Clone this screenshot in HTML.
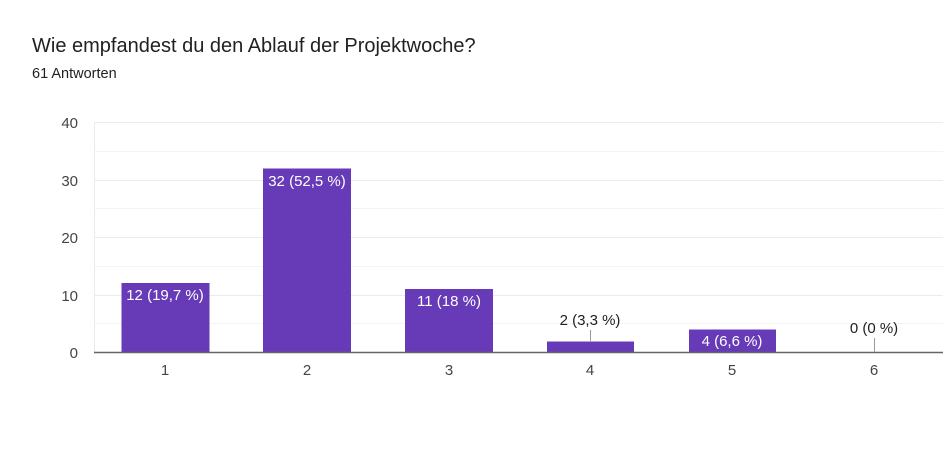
<!DOCTYPE html>
<html><head><meta charset="utf-8"><style>
body{margin:0;background:#fff;}
svg{display:block;font-family:"Liberation Sans",Arial,sans-serif;}
</style></head><body>
<svg width="945" height="449" viewBox="0 0 945 449" xmlns="http://www.w3.org/2000/svg">
<rect width="945" height="449" fill="#fff"/>
<text x="32" y="52" font-size="20" fill="#202124">Wie empfandest du den Ablauf der Projektwoche?</text>
<text x="32" y="78" font-size="14.5" fill="#202124">61 Antworten</text>
<g stroke="#f3f3f3" stroke-width="1">
<line x1="94" y1="122.5" x2="943" y2="122.5" stroke="#ebebeb"/>
<line x1="94" y1="151.5" x2="943" y2="151.5"/>
<line x1="94" y1="180.5" x2="943" y2="180.5" stroke="#ebebeb"/>
<line x1="94" y1="208.5" x2="943" y2="208.5"/>
<line x1="94" y1="237.5" x2="943" y2="237.5" stroke="#ebebeb"/>
<line x1="94" y1="266.5" x2="943" y2="266.5"/>
<line x1="94" y1="295.5" x2="943" y2="295.5" stroke="#ebebeb"/>
<line x1="94" y1="323.5" x2="943" y2="323.5"/>
<line x1="94.5" y1="122" x2="94.5" y2="352" stroke="#ebebeb"/>
</g>
<g font-size="15" fill="#444" text-anchor="end">
<text x="78" y="128">40</text><text x="78" y="186">30</text><text x="78" y="243">20</text><text x="78" y="301">10</text><text x="78" y="358">0</text>
</g>
<g fill="#673ab7">
<rect x="121.5" y="283" width="88" height="69"/>
<rect x="263" y="168.5" width="88" height="183.5"/>
<rect x="405" y="289" width="88" height="63"/>
<rect x="547" y="341.5" width="87" height="10.5"/>
<rect x="689" y="329.5" width="87" height="22.5"/>
</g>
<line x1="94" y1="352.5" x2="943" y2="352.5" stroke="#666" stroke-width="1.5"/>
<line x1="590.5" y1="330" x2="590.5" y2="341" stroke="#999"/>
<line x1="874.5" y1="338" x2="874.5" y2="352" stroke="#999"/>
<g font-size="15" text-anchor="middle">
<text x="165" y="300" fill="#fff">12 (19,7 %)</text>
<text x="307" y="186" fill="#fff">32 (52,5 %)</text>
<text x="449" y="306" fill="#fff">11 (18 %)</text>
<text x="590" y="325" fill="#202124">2 (3,3 %)</text>
<text x="732" y="346" fill="#fff">4 (6,6 %)</text>
<text x="874" y="333" fill="#202124">0 (0 %)</text>
</g>
<g font-size="15" fill="#444" text-anchor="middle">
<text x="165" y="375">1</text><text x="307" y="375">2</text><text x="449" y="375">3</text><text x="590" y="375">4</text><text x="732" y="375">5</text><text x="874" y="375">6</text>
</g>
</svg>
</body></html>
